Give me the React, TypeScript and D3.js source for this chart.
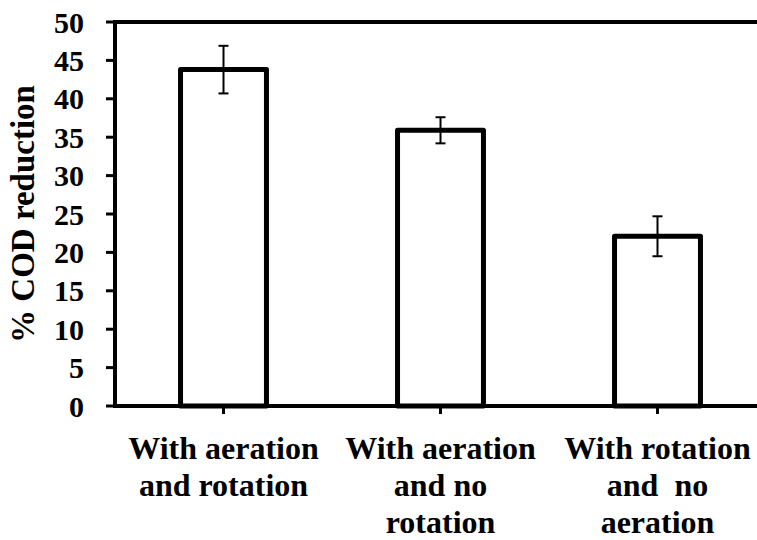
import React from "react";
import * as d3 from "d3";

const categories = ["c1", "c2", "c3"];
const categoryLines = [
  ["With aeration", "and rotation"],
  ["With aeration", "and no", "rotation"],
  ["With rotation", "and  no", "aeration"],
];
const codReduction = [43.8, 35.9, 22.1];
const errorValues = [3.1, 1.7, 2.6];
const yTicks = [0, 5, 10, 15, 20, 25, 30, 35, 40, 45, 50];

const W = 757;
const H = 540;
const left = 115;
const top = 22;
const bottom = 406;
const step = 217;
const FONT = "Liberation Serif";

export default function App() {
  const x = d3
    .scaleBand<string>()
    .domain(categories)
    .range([left, left + step * categories.length])
    .paddingInner(0.604)
    .paddingOuter(0.302);
  const y = d3.scaleLinear().domain([0, 50]).range([bottom, top]);
  const bw = x.bandwidth();
  const textStyle = { fontFamily: FONT, fontWeight: 700 as const };

  return (
    <svg
      width={W}
      height={H}
      style={{ position: "absolute", left: 0, top: 0, background: "#fff", fontFamily: FONT }}
    >
      {/* bars */}
      {categories.map((c, i) => (
        <rect
          key={c}
          x={x(c)!}
          y={y(codReduction[i])}
          width={bw}
          height={y(0) - y(codReduction[i])}
          fill="#fff"
          stroke="#000"
          strokeWidth={5}
          strokeLinejoin="round"
        />
      ))}

      {/* error bars */}
      {categories.map((c, i) => {
        const cx = x(c)! + bw / 2;
        const hi = y(codReduction[i] + errorValues[i]);
        const lo = y(codReduction[i] - errorValues[i]);
        return (
          <g key={c} stroke="#000" strokeWidth={2}>
            <line x1={cx} x2={cx} y1={hi} y2={lo} />
            <line x1={cx - 5} x2={cx + 5} y1={hi} y2={hi} />
            <line x1={cx - 5} x2={cx + 5} y1={lo} y2={lo} />
          </g>
        );
      })}

      {/* plot frame: top border, y axis, x axis */}
      <line x1={left} x2={W} y1={y(50)} y2={y(50)} stroke="#000" strokeWidth={4} />
      <line x1={left} x2={left} y1={y(50) - 2} y2={y(0) + 2} stroke="#000" strokeWidth={4} />
      <line x1={left} x2={W} y1={y(0)} y2={y(0)} stroke="#000" strokeWidth={4} />

      {/* y ticks and labels */}
      {yTicks.map((t) => (
        <g key={t}>
          <line x1={106} x2={left} y1={y(t)} y2={y(t)} stroke="#000" strokeWidth={3} />
          <text
            x={84}
            y={y(t)}
            textAnchor="end"
            dominantBaseline="central"
            fontSize={30}
            fill="#000"
            style={textStyle}
          >
            {t}
          </text>
        </g>
      ))}

      {/* x ticks and category labels */}
      {categories.map((c, i) => {
        const cx = x(c)! + bw / 2;
        return (
          <g key={c}>
            <line x1={cx} x2={cx} y1={y(0)} y2={y(0) + 8} stroke="#000" strokeWidth={3} />
            <text
              textAnchor="middle"
              fontSize={32}
              fill="#000"
              style={{ ...textStyle, whiteSpace: "pre" }}
            >
              {categoryLines[i].map((ln, j) => (
                <tspan key={j} x={cx} y={459 + j * 37}>
                  {ln}
                </tspan>
              ))}
            </text>
          </g>
        );
      })}

      {/* y axis title */}
      <text
        transform={`translate(34, ${(top + bottom) / 2}) rotate(-90)`}
        textAnchor="middle"
        fontSize={33}
        fill="#000"
        style={textStyle}
      >
        % COD reduction
      </text>
    </svg>
  );
}
